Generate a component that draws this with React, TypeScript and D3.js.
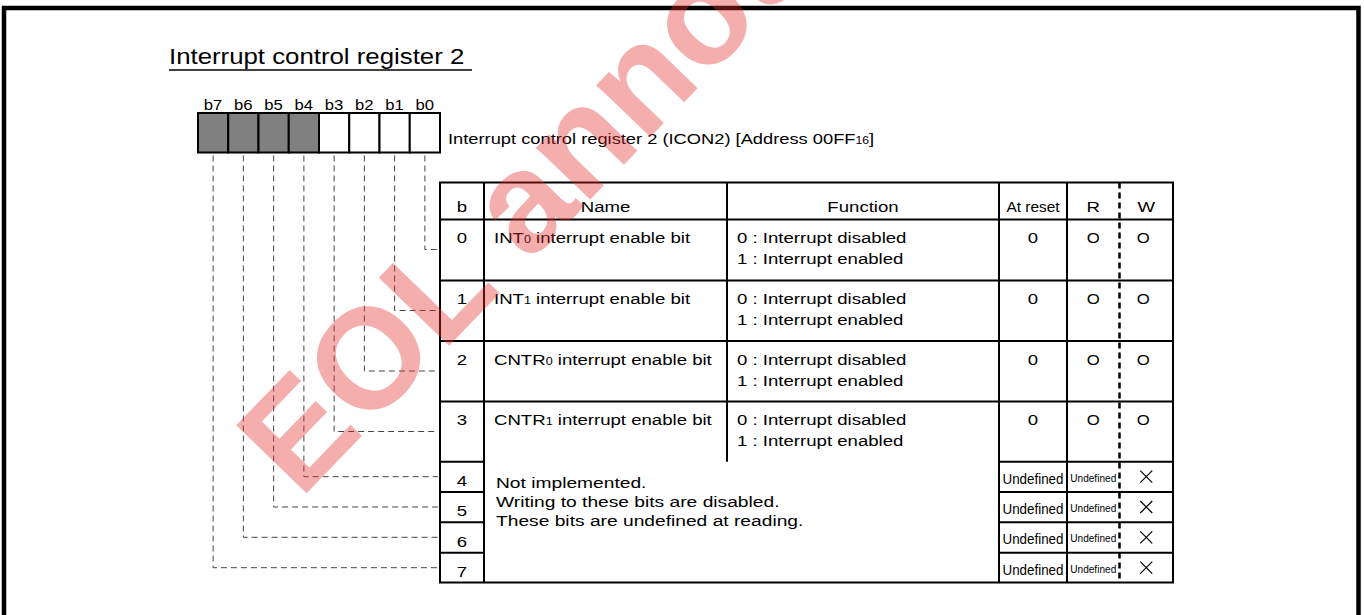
import React from "react";
import * as d3 from "d3";

// ---------- data ----------
const bitLabels = ["b7", "b6", "b5", "b4", "b3", "b2", "b1", "b0"];
const bitShaded = [true, true, true, true, false, false, false, false];
const rowBits = ["0", "1", "2", "3", "4", "5", "6", "7"];
const namePrefix = ["INT", "INT", "CNTR", "CNTR"];
const nameSub = ["0", "1", "0", "1"];
const nameSuffix = " interrupt enable bit";
const functionLines = ["0 : Interrupt disabled", "1 : Interrupt enabled"];
const atResetValues = ["0", "0", "0", "0", "Undefined", "Undefined", "Undefined", "Undefined"];
const readValues = ["O", "O", "O", "O", "Undefined", "Undefined", "Undefined", "Undefined"];
const writeValues = ["O", "O", "O", "O", "×", "×", "×", "×"];
const notImplLines = [
  "Not implemented.",
  "Writing to these bits are disabled.",
  "These bits are undefined at reading.",
];
const headers = ["b", "Name", "Function", "At reset", "R", "W"];
const title = "Interrupt control register 2";
const regLabelMain = "Interrupt control register 2 (ICON2) [Address 00FF";
const regLabelSub = "16";
const watermark = "EOL announced";

// ---------- layout ----------
const FONT = "'Liberation Sans', Arial, Helvetica, sans-serif";
const SX = 1.2;
const colEdges = [440, 484, 727, 999, 1067, 1173];
const rwDivider = 1119.5;
const rowEdges = [182.5, 219.5, 280.5, 341, 401.5, 461.7, 492, 522.3, 552.7, 582.5];

const bitX = d3.scaleBand<string>().domain(bitLabels).range([198, 440]).paddingInner(0);

function T({ x, y, children, size = 15.5, anchor = "start", sx = SX, fill = "#000", len }: any) {
  return (
    <text
      transform={`translate(${x},${y}) scale(${sx},1)`}
      fontFamily={FONT}
      fontSize={size}
      textAnchor={anchor}
      fill={fill}
      textLength={len}
      lengthAdjust={len ? "spacingAndGlyphs" : undefined}
    >
      {children}
    </text>
  );
}

export default function App() {
  const W = 1364;
  const H = 615;
  const boxTop = 113;
  const boxBottom = 152.5;
  const tableLeft = colEdges[0];
  const tableRight = colEdges[colEdges.length - 1];
  const tableTop = rowEdges[0];
  const tableBottom = rowEdges[rowEdges.length - 1];
  const cx = (i: number) => (colEdges[i] + colEdges[i + 1]) / 2;
  const rCx = (colEdges[4] + rwDivider) / 2;
  const wCx = (rwDivider + colEdges[5]) / 2;

  const connectorY = (r: number) => {
    const top = rowEdges[r + 1];
    return r < 4 ? top + 30 : top + 15;
  };

  return (
    <svg
      width={W}
      height={H}
      viewBox={`0 0 ${W} ${H}`}
      style={{ position: "absolute", left: 0, top: 0, background: "#fff" }}
    >
      <rect x={0} y={0} width={W} height={H} fill="#fff" />

      {/* outer frame */}
      <rect x={4} y={8} width={1354.5} height={700} fill="none" stroke="#000" strokeWidth={4.5} />

      {/* title */}
      <T x={169} y={64} size={21.5} sx={1.2}>
        {title}
      </T>
      <line x1={169} x2={472} y1={70} y2={70} stroke="#000" strokeWidth={1.5} />

      {/* bit labels & boxes */}
      {bitLabels.map((b, i) => (
        <g key={b}>
          <T x={(bitX(b) as number) + bitX.bandwidth() / 2} y={110} size={14.5} sx={1.15} anchor="middle">
            {b}
          </T>
          <rect
            x={bitX(b)}
            y={boxTop}
            width={bitX.bandwidth()}
            height={boxBottom - boxTop}
            fill={bitShaded[i] ? "#808080" : "#fff"}
            stroke="#000"
            strokeWidth={2}
          />
        </g>
      ))}
      <T x={448} y={144} size={15} sx={1.22}>
        {regLabelMain}
        <tspan fontSize={10}>{regLabelSub}</tspan>]
      </T>

      {/* dashed connectors */}
      {bitLabels.map((b, i) => {
        const bitIndex = 7 - i;
        const x = (bitX(b) as number) + bitX.bandwidth() / 2;
        const y = connectorY(bitIndex);
        return (
          <path
            key={"c" + b}
            d={`M${x},${boxBottom + 3}V${y}H${tableLeft - 2}`}
            fill="none"
            stroke="#444"
            strokeWidth={1}
            strokeDasharray="6,4"
          />
        );
      })}

      {/* table text */}
      {headers.map((h, i) => {
        const x = i < 4 ? cx(i) : i === 4 ? rCx : wCx;
        return (
          <T
            key={h}
            x={x}
            y={rowEdges[0] + 29}
            anchor="middle"
            size={15.5}
            sx={i === 3 ? 1 : SX}
            len={i === 3 ? 53 : undefined}
          >
            {h}
          </T>
        );
      })}

      {rowBits.map((rb, r) => {
        const top = rowEdges[r + 1];
        const bottom = rowEdges[r + 2];
        const base = top + 23.5;
        return (
          <g key={"row" + rb}>
            <T x={cx(0)} y={r < 4 ? base : bottom - 6} anchor="middle">
              {rb}
            </T>
            {r < 4 && (
              <>
                <T x={494} y={base}>
                  {namePrefix[r]}
                  <tspan fontSize={10.5}>{nameSub[r]}</tspan>
                  {nameSuffix}
                </T>
                {functionLines.map((fl, k) => (
                  <T key={fl} x={737} y={base + k * 21}>
                    {fl}
                  </T>
                ))}
                <T x={cx(3)} y={base} anchor="middle">
                  {atResetValues[r]}
                </T>
                <T x={rCx} y={base} anchor="middle" sx={1.08}>
                  {readValues[r]}
                </T>
                <T x={wCx - 3} y={base} anchor="middle" sx={1.08}>
                  {writeValues[r]}
                </T>
              </>
            )}
            {r >= 4 && (
              <>
                <T x={cx(3)} y={top + 22} anchor="middle" sx={1} len={61}>
                  {atResetValues[r]}
                </T>
                <T x={rCx} y={top + 20} anchor="middle" size={10} sx={1} len={46}>
                  {readValues[r]}
                </T>
                <path
                  d={`M${wCx - 6},${top + 9}L${wCx + 6},${top + 21}M${wCx + 6},${top + 9}L${wCx - 6},${top + 21}`}
                  stroke="#000"
                  strokeWidth={1.2}
                  fill="none"
                />
              </>
            )}
          </g>
        );
      })}

      {notImplLines.map((l, k) => (
        <T key={l} x={496} y={rowEdges[5] + 26 + k * 19} size={15.5} sx={1.24}>
          {l}
        </T>
      ))}

      {/* table grid */}
      <rect
        x={tableLeft}
        y={tableTop}
        width={tableRight - tableLeft}
        height={tableBottom - tableTop}
        fill="none"
        stroke="#000"
        strokeWidth={2}
      />
      {colEdges.slice(1, -1).map((x, i) => (
        <line
          key={"v" + x}
          x1={x}
          x2={x}
          y1={tableTop}
          y2={i === 1 ? rowEdges[5] : tableBottom}
          stroke="#000"
          strokeWidth={2}
        />
      ))}
      {rowEdges.slice(1, -1).map((y, i) => {
        const merged = i >= 4;
        if (!merged) {
          return <line key={"h" + y} x1={tableLeft} x2={tableRight} y1={y} y2={y} stroke="#000" strokeWidth={2} />;
        }
        return (
          <g key={"h" + y}>
            <line x1={tableLeft} x2={colEdges[1]} y1={y} y2={y} stroke="#000" strokeWidth={2} />
            <line x1={colEdges[3]} x2={tableRight} y1={y} y2={y} stroke="#000" strokeWidth={2} />
          </g>
        );
      })}
      <line
        x1={rwDivider}
        x2={rwDivider}
        y1={tableTop}
        y2={tableBottom}
        stroke="#000"
        strokeWidth={2.5}
        strokeDasharray="6,4"
      />

      {/* watermark (on top, translucent) */}
      <text
        transform="translate(300,500) rotate(-46)"
        fontFamily={FONT}
        fontWeight="bold"
        fontSize={142}
        fill="#e62e2e"
        opacity={0.38}
      >
        {watermark}
      </text>
    </svg>
  );
}
